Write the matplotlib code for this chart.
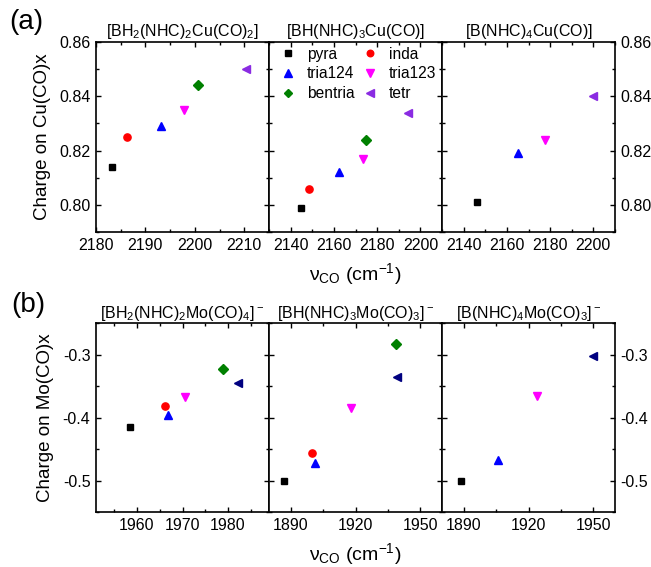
"""Charge on the metal carbonyl fragment vs. CO stretching frequency for
the BH2/BH/B scorpionate series, Cu (a) and Mo (b).
"""

import matplotlib
matplotlib.use("Agg")
import matplotlib.pyplot as plt
import numpy as np
from matplotlib.lines import Line2D
from matplotlib.ticker import FormatStrFormatter, MultipleLocator

plt.rcParams["font.family"] = ["Liberation Sans", "DejaVu Sans"]
plt.rcParams["mathtext.default"] = "regular"
plt.rcParams["axes.unicode_minus"] = False

nan = np.nan

LIGANDS = ["pyra", "inda", "tria124", "tria123", "bentria", "tetr"]
MARKERS = ["s", "o", "^", "v", "D", "<"]
MSIZE = {"s": 5, "o": 5.2, "^": 6, "v": 6, "D": 5, "<": 6}
COLORS_CU = ["#000000", "#ff0000", "#0000ff", "#ff00ff", "#008000", "#8a2be2"]
COLORS_MO = ["#000000", "#ff0000", "#0000ff", "#ff00ff", "#008000", "#000080"]

# (a) Cu carbonyls: nu_CO (cm-1) and charge on Cu(CO)x
cu_bh2_x = [2183.3, 2186.2, 2193.2, 2197.8, 2200.7, 2210.4]
cu_bh2_y = [0.814, 0.825, 0.829, 0.835, 0.844, 0.850]
cu_bh_x = [2144.9, 2148.3, 2162.6, 2173.4, 2174.9, 2194.3]
cu_bh_y = [0.799, 0.806, 0.812, 0.817, 0.824, 0.834]
cu_b_x = [2146.0, nan, 2165.3, 2177.4, nan, 2200.0]
cu_b_y = [0.801, nan, 0.819, 0.824, nan, 0.840]

# (b) Mo carbonyls: nu_CO (cm-1) and charge on Mo(CO)x
mo_bh2_x = [1958.5, 1966.1, 1966.9, 1970.5, 1979.0, 1982.1]
mo_bh2_y = [-0.414, -0.382, -0.395, -0.367, -0.323, -0.344]
mo_bh_x = [1886.9, 1900.0, 1901.4, 1918.1, 1938.9, 1939.2]
mo_bh_y = [-0.500, -0.456, -0.471, -0.385, -0.283, -0.336]
mo_b_x = [1888.6, nan, 1906.0, 1924.0, nan, 1950.0]
mo_b_y = [-0.501, nan, -0.467, -0.365, nan, -0.302]

CU_TITLES = [r"[BH$_2$(NHC)$_2$Cu(CO)$_2$]",
             r"[BH(NHC)$_3$Cu(CO)]",
             r"[B(NHC)$_4$Cu(CO)]"]
MO_TITLES = [r"[BH$_2$(NHC)$_2$Mo(CO)$_4$]$^-$",
             r"[BH(NHC)$_3$Mo(CO)$_3$]$^-$",
             r"[B(NHC)$_4$Mo(CO)$_3$]$^-$"]

W, H = 651, 567
LEFT, PW = 96 / W, 173 / W


def _style(ax, xlim, xmaj, xmin, ylim, ymaj, ymin, yfmt):
    ax.set_xlim(*xlim)
    ax.set_ylim(*ylim)
    ax.xaxis.set_major_locator(MultipleLocator(xmaj))
    ax.xaxis.set_minor_locator(MultipleLocator(xmin))
    ax.yaxis.set_major_locator(MultipleLocator(ymaj))
    ax.yaxis.set_minor_locator(MultipleLocator(ymin))
    ax.yaxis.set_major_formatter(FormatStrFormatter(yfmt))
    ax.tick_params(which="both", direction="in", top=True, right=True,
                   width=1.0, labelsize=11.5, pad=4)
    ax.tick_params(which="major", length=3.5)
    ax.tick_params(which="minor", length=2)
    for s in ax.spines.values():
        s.set_linewidth(1.2)


def _scatter(ax, xs, ys, colors):
    for x, y, m, c in zip(xs, ys, MARKERS, colors):
        ax.plot(x, y, m, color=c, ms=MSIZE[m], mec=c)


def make_row(fig, bottom, height, data, titles, colors, xlims, xmaj, xmin,
             ylim, ymaj, ymin, yfmt, ylabel):
    axes = []
    for i, ((xs, ys), title, xl, ma, mi) in enumerate(
            zip(data, titles, xlims, xmaj, xmin)):
        ax = fig.add_axes([LEFT + i * PW, bottom, PW, height])
        _style(ax, xl, ma, mi, ylim, ymaj, ymin, yfmt)
        _scatter(ax, xs, ys, colors)
        ax.set_title(title, fontsize=11.5, pad=4)
        if i == 1:
            ax.tick_params(labelleft=False)
        if i == 2:
            ax.tick_params(labelleft=False, labelright=True)
        axes.append(ax)
    axes[0].set_ylabel(ylabel, fontsize=13.5, labelpad=6)
    axes[1].set_xlabel(r"ν$_{CO}$ (cm$^{-1}$)", fontsize=14, labelpad=6)
    return axes


def main():
    fig = plt.figure(figsize=(W / 100, H / 100), dpi=100)

    top = make_row(
        fig, 1 - 232 / H, 190 / H,
        [(cu_bh2_x, cu_bh2_y), (cu_bh_x, cu_bh_y), (cu_b_x, cu_b_y)],
        CU_TITLES, COLORS_CU,
        [(2180, 2215), (2130, 2210), (2130, 2210)], [10, 20, 20], [5, 10, 10],
        (0.79, 0.86), 0.02, 0.01, "%.2f", "Charge on Cu(CO)x")
    make_row(
        fig, 1 - 512.3 / H, 189 / H,
        [(mo_bh2_x, mo_bh2_y), (mo_bh_x, mo_bh_y), (mo_b_x, mo_b_y)],
        MO_TITLES, COLORS_MO,
        [(1951, 1989), (1880, 1960), (1880, 1960)], [10, 30, 30], [5, 15, 15],
        (-0.55, -0.25), 0.1, 0.05, "%.1f", "Charge on Mo(CO)x")

    # legend, column-major order so rows read pyra/inda, tria124/tria123, ...
    order = [0, 2, 4, 1, 3, 5]
    handles = [Line2D([], [], ls="none", marker=MARKERS[k], color=COLORS_CU[k],
                      ms=MSIZE[MARKERS[k]] - 0.5)
               for k in order]
    top[1].legend(handles, [LIGANDS[k] for k in order], ncol=2, frameon=False,
                  loc="upper left", bbox_to_anchor=(0.065, 0.975),
                  borderaxespad=0, borderpad=0, fontsize=11.2,
                  handlelength=1.0, handletextpad=0.7, columnspacing=0.5,
                  labelspacing=0.3)

    fig.text(26 / W, 1 - 22 / H, "(a)", fontsize=20, ha="center", va="center")
    fig.text(28 / W, 1 - 305 / H, "(b)", fontsize=20, ha="center", va="center")

    fig.savefig("out.png", dpi=100)
    plt.close(fig)


if __name__ == "__main__":
    main()
